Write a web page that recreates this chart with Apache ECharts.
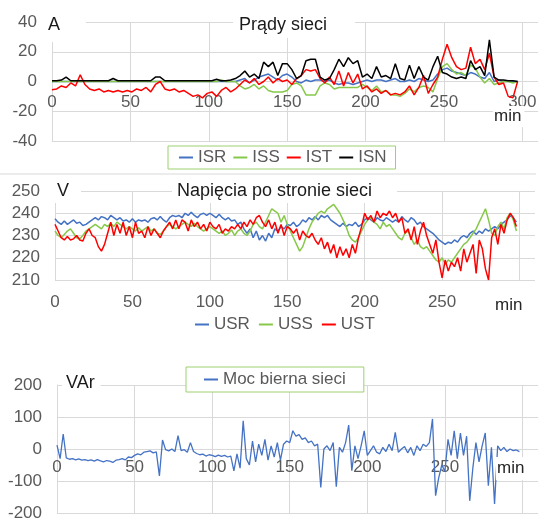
<!DOCTYPE html>
<html>
<head>
<meta charset="utf-8">
<script src="https://cdn.jsdelivr.net/npm/echarts@6/dist/echarts.min.js"></script>
<style>
  body { margin: 0; background: #fff; }
  #chart { width: 550px; height: 520px; }
</style>
</head>
<body>
<div id="chart"></div>
<script>
// czasy probek: prady co 3 min, napiecia i moc co 2 min
var minutes3 = [];
for (var k = 0; k < 100; k++) minutes3.push(k * 3);
var minutes2 = [];
for (var j = 0; j < 150; j++) minutes2.push(j * 2);

// Prady sieci [A]
var ISR = [
  0, 0, 0, 0, 0, 0, 0, 0, 0, 0,
  0, 0, 0, 0, 0, 0, 0, 0, 0, 0,
  0, 0, 0, 0, 0, 0, 0, 0, 0, 0,
  0, 0, 0, 0, 0, 0, 0, 0, 0, 0,
  1, 2, -1, 1, 3, 4, 5, 3, 1, 4,
  5, 3, 0, -1, 1, 0, 1, 1, 0, 1,
  -1, -2, -1, -1, -2, -1, 0, 1, 0, 1,
  1, 0, 1, 2, 0, 0, 1, 0, 2, 1,
  0, 1, 5, 8, 9, 7, 6, 5, 4, 6,
  5, 3, 2, 6, 0, 1, 0, 0, 0, 0
];
var ISS = [
  0, 0, 0, 0, 0, 0, 0, 0, 0, 0,
  0, 0, 0, 0, 0, 0, 0, 0, 0, 0,
  0, 0, 0, 0, 0, 0, 0, 0, 0, 0,
  0, 0, 0, 0, 0, 0, 1, 0, 0, 0,
  -3, -5, -4, -2, -5, -3, -6, -7, -7, -7,
  -6, -2, -1, -3, -9, -9, -9, -3, -1, -2,
  -5, -4, -4, -4, -4, -4, -2, -4, -6, -3,
  -7, -6, -9, -9, -10, -8, -5, -7, -4, -3,
  -4, -7, 2, 10, 12, 8, 5, 6, 4, 11,
  9, 3, -1, 2, -2, -1, 0, 0, -1, 0
];
var IST = [
  -5.5, -5, -3, -4, -1, -3, 4.5, -2, -5, -6,
  -5, -7, -6, -7, -6, -7, -6, -7, -5, -6,
  -4, -7, -2, 0, -5, -6, -5, -7, -6, -8,
  -10, -9, -11, -8, -7, -10, -6, -4, -7, -5,
  -2, 1, -1, 2, -2, 0, 3, -1, 2, 0,
  1, -2, 2, 4, 8, 7, 8, 2, -1, 3,
  -2, 7, -3, 6, -1, 5, -5, -3, -7, -5,
  -8, -6, -9, -8, -9, -7, -3, -9, -4, 4,
  -8, -2, 3, 15, 25, 16, 10, 8, 9, 23,
  12, 15, 8, 19, 3, -2, -1, -10, -11, 0
];
var ISN = [
  0.5, 0.5, 1, 3, 0.5, 0.5, 0.5, 0.5, 0.5, 0.5,
  0.5, 0.5, 0.5, 2, 0.5, 0.5, 0.5, 0.5, 0.5, 0.5,
  0.5, 0.5, 3, 3, 0.5, 0.5, 0.5, 0.5, 0.5, 0.5,
  0.5, 0.5, 0.5, 0.5, 0.5, 1.5, 0.5, 0.5, 1, 2,
  4, 7, 3, 5, 2, 13, 10, 13, 4, 12,
  12, 8, 2, 4, 14, 15, 15, 3, 1, 2,
  8, 15, 10, 16, 12, 14, 3, 5, 2, 10,
  3, 4, 2, 12, 2, 1, 11, 2, 10, 3,
  1, 10, 17, 6, 5, 3, 2, 3, 2, 14,
  8, 10, 4, 28, 3, 1, 1, 0.5, 0.5, 0
];

// Napiecia po stronie sieci [V]
var USR = [
  237.5, 236, 235, 236.5, 235, 236, 237, 235.5, 236, 234.5,
  235, 236, 237, 238, 237, 238.5, 238, 237, 239, 238,
  237, 238, 236.5, 237, 236, 237.5, 236, 237, 236.5, 237,
  236, 237.5, 238, 237, 238.5, 237, 236, 238, 239, 238.5,
  239, 238, 240, 239, 240.5, 239, 238, 239.5, 240, 239,
  240, 239, 238, 239.5, 238, 237, 238, 236.5, 237, 235,
  236, 233, 231, 233, 229, 232, 228, 230, 227.5, 231,
  229, 233, 232, 234, 233, 235, 234.5, 236, 234, 235,
  237, 236, 238, 237, 238.5, 237, 239, 238, 239, 237,
  236, 235, 234, 235.5, 234, 235, 234.5, 236, 234, 235,
  237, 238, 237, 236, 238, 237, 236.5, 238, 237, 236,
  237, 236, 238.5, 237, 236, 238, 237, 235, 236, 234,
  233, 232, 231, 229.5, 228, 227, 226, 227, 226.5, 228,
  227, 229, 230, 229, 231, 232, 230.5, 232, 231, 233,
  232, 233, 234, 233, 235, 236, 237, 239, 238, 236
];
var USS = [
  232, 230, 229, 230.5, 232, 233, 231, 229, 228.5, 230,
  232, 233, 234, 235, 234, 233, 235, 234, 235.5, 234,
  236, 235, 234, 233, 234, 233, 232, 233.5, 232, 233,
  234, 232, 233, 231, 230.5, 232, 234, 235, 234, 233,
  234, 235, 236, 235, 234, 235.5, 234, 233, 232, 233,
  234, 233, 232, 231, 232, 230, 231, 232.5, 230, 232,
  233, 231, 230, 232, 235, 236, 234, 233, 236, 239,
  242, 241, 240, 236, 239, 235, 232, 229, 226, 223,
  225, 229, 233, 236, 238, 240, 241, 240, 242, 243,
  244, 242, 240, 237, 234, 230, 228, 227, 229, 232,
  235, 237, 238, 236, 235, 233, 236, 234, 235, 233,
  231, 229, 228, 231, 232, 229, 226, 228, 225, 224,
  225, 223, 221, 219, 218, 220, 217, 219, 218, 220,
  222, 224, 226, 227, 229, 231, 233, 236, 239, 242,
  237, 231, 230, 234, 236, 233, 238, 240, 237, 232
];
var UST = [
  235, 232, 229, 228, 229.5, 228, 228.5, 230, 228, 227.5,
  231, 233, 230, 229, 225, 223, 226, 231, 236, 230,
  235, 231, 236, 230, 234, 229, 236, 231, 232, 229,
  234, 230, 233, 231, 229, 232, 234, 236, 233, 237,
  233, 237, 236, 232, 237, 234, 236, 233, 235, 232,
  236, 234, 233, 235, 231, 233, 232, 234, 233, 235,
  233, 236, 234, 237, 235, 238, 239, 236, 234, 237,
  233, 236, 231, 235, 230, 234, 233, 231, 233, 228,
  232, 230, 229, 231, 228, 226, 229, 224, 227, 222,
  226, 220, 225, 221, 224, 220, 226, 222, 229, 234,
  240, 237, 239, 236, 241, 238, 240, 239, 241, 238,
  240, 236, 238, 231, 233, 228, 234, 226, 232, 236,
  230, 226, 222, 228, 218, 211, 219, 214, 218, 216,
  220, 214, 224, 218, 222, 226, 213, 228, 224, 215,
  210, 229, 233, 226, 235, 231, 237, 240, 238, 234
];

// Moc bierna sieci [VAr]
var Q = [
  12, -30, 47, -28, -32, -30, -34, -31, -35, -33,
  -36, -34, -38, -33, -37, -40, -36, -38, -42, -35,
  -33, -30, -34, -25, -27, -20, -15, -18, -10, -8,
  -6, -12, -9, -84, 28, -2, -6, 0, -8, 42,
  -5, -2, -10, 20, -8, -14, -18, -16, -22, -18,
  -20, -24, -19, -23, -20, -25, -22, -68, -15, -60,
  88, -30, -50, 25, -40, 15, -20, 30, -35, 10,
  -25, 20, -35, 15, 25, 20, 57, 40, 45, 30,
  35, 20, 25, 10, 15, -120, 0, 10, -5, 20,
  -118, 5, -10, 20, 75, -68, 10, -30, 10, 57,
  -20, -5, 10, -10, -15, 5, -8, 15, -5, 52,
  -10, 0, 8, -12, 5, -20, 10, -5, 15, 8,
  20, 94, -146, -90, -50, -70, 30, -20, 57, -30,
  50, -20, 40, -162, -60, 20, -40, 10, 50, -115,
  5, -172, 10, -5, 5, -8, 0, -5, -3, -8
];

var gray = '#595959';
var gridGray = '#d9d9d9';
var green = '#86c84a';
var blue = '#4472c4';
var font = 'Liberation Sans, Arial, sans-serif';

function pts(times, arr) {
  return times.map(function (t, i) { return [t, arr[i]]; });
}

// os X przesunieta na poziom zera (offset ujemny = w gore)
function xAx(gi, margin, offset) {
  return {
    type: 'value', gridIndex: gi, min: 0, max: 310, interval: 50,
    offset: offset,
    axisLine: { show: false, onZero: false },
    axisTick: { show: false },
    axisLabel: { color: gray, fontSize: 17, fontFamily: font, margin: margin, showMaxLabel: false },
    splitLine: { show: true, showMaxLine: false, lineStyle: { color: gridGray } }
  };
}
function yAx(gi, min, max, interval) {
  return {
    type: 'value', gridIndex: gi, min: min, max: max, interval: interval,
    axisLine: { show: true, onZero: false, lineStyle: { color: gridGray } },
    axisTick: { show: false },
    axisLabel: { color: gray, fontSize: 17, fontFamily: font, margin: 15 },
    splitLine: { show: true, lineStyle: { color: gridGray } }
  };
}
function line(name, gi, times, arr, color, w) {
  return {
    name: name, type: 'line', xAxisIndex: gi, yAxisIndex: gi,
    data: pts(times, arr), showSymbol: false, symbol: 'none',
    lineStyle: { color: color, width: w || 1.5 }, itemStyle: { color: color }
  };
}
function box(text, left, top, padding, size) {
  return {
    text: text, left: left, top: top, padding: padding,
    backgroundColor: '#fff', itemGap: 0,
    textStyle: { fontSize: size || 18, fontWeight: 'normal', color: '#1a1a1a', fontFamily: font }
  };
}
function minBox(left, top, padding) {
  var b = box('min', left, top, padding, 17);
  b.textStyle.color = '#262626';
  return b;
}

var chart = echarts.init(document.getElementById('chart'));
chart.setOption({
  animation: false,
  title: [
    box('A', 44, 12, [4, 26, 8, 4]),
    box('Prądy sieci', 233, 12, [4, 28, 4, 6]),
    box('V', 53, 178, [4, 12, 3, 4]),
    box('Napięcia po stronie sieci', 172, 178, [4, 25, 3, 5]),
    box('VAr', 62, 370, [4, 6, 3, 4]),
    minBox(493, 106, [2, 3, 2, 1]),
    minBox(494, 295, [2, 14, 2, 1]),
    minBox(496, 457, [3, 12, 3, 1])
  ],
  legend: [
    {
      data: ['ISR', 'ISS', 'IST', 'ISN'], left: 168, top: 146,
      padding: [3, 9, 3, 11], itemGap: 7, icon: 'rect', itemWidth: 14, itemHeight: 2,
      borderColor: '#9ed06f', borderWidth: 1, backgroundColor: '#fff',
      textStyle: { color: gray, fontSize: 17, fontFamily: font }
    },
    {
      data: ['USR', 'USS', 'UST'], left: 195, top: 316,
      padding: 0, itemGap: 9, icon: 'rect', itemWidth: 14, itemHeight: 2,
      textStyle: { color: gray, fontSize: 17, fontFamily: font }
    },
    {
      data: ['Moc bierna sieci'], left: 186, top: 367,
      padding: [4, 18, 4, 18], icon: 'rect', itemWidth: 14, itemHeight: 2,
      borderColor: '#9ed06f', borderWidth: 1, backgroundColor: '#fff',
      textStyle: { color: gray, fontSize: 17, fontFamily: font }
    }
  ],
  grid: [
    { left: 52, right: 12, top: 22, height: 119, outerBoundsMode: 'none' },
    { left: 55, right: 15, top: 191, height: 89, outerBoundsMode: 'none' },
    { left: 57, right: 12, top: 385, height: 128, outerBoundsMode: 'none' }
  ],
  xAxis: [xAx(0, 12, -59.5), xAx(1, 14, 0), xAx(2, 10, -64)],
  yAxis: [yAx(0, -40, 40, 20), yAx(1, 210, 250, 10), yAx(2, -200, 200, 100)],
  graphic: [
    { type: 'line', shape: { x1: 0, y1: 174, x2: 536, y2: 174 }, style: { stroke: gridGray, lineWidth: 1 }, z: -1 }
  ],
  series: [
    line('ISR', 0, minutes3, ISR, blue),
    line('ISS', 0, minutes3, ISS, green),
    line('IST', 0, minutes3, IST, '#ff0000'),
    line('ISN', 0, minutes3, ISN, '#000000'),
    line('USR', 1, minutes2, USR, blue),
    line('USS', 1, minutes2, USS, green),
    line('UST', 1, minutes2, UST, '#ff0000'),
    line('Moc bierna sieci', 2, minutes2, Q, blue, 1.3)
  ]
});
</script>
</body>
</html>
